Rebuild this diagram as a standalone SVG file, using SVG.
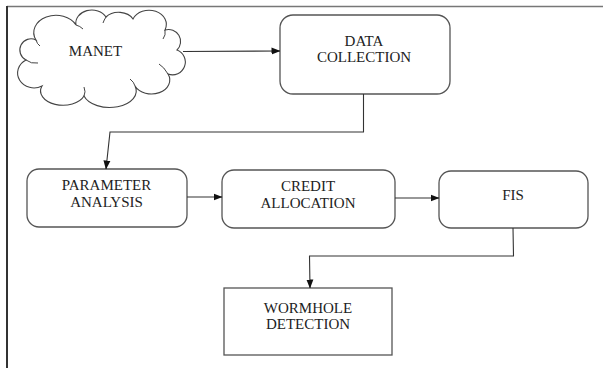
<svg xmlns="http://www.w3.org/2000/svg" width="603" height="368" viewBox="0 0 603 368">
<style>
.box{fill:#fff;stroke:#555;stroke-width:1.3}
.cloud{fill:#fff;stroke:#444;stroke-width:1.1}
.inner{fill:none;stroke:#444;stroke-width:1}
text{font-family:'Liberation Serif','DejaVu Serif',serif;font-size:15px;fill:#222;text-anchor:middle}
.con{fill:none;stroke:#333;stroke-width:1.1}
</style>
<defs>
<marker id="ah" markerWidth="9" markerHeight="8" refX="8.5" refY="4" orient="auto" markerUnits="userSpaceOnUse">
<path d="M0,0.5 L9,4 L0,7.5 Z" fill="#111"/>
</marker>
</defs>
<rect width="603" height="368" fill="#fff"/>
<g id="frame">
<line x1="7" y1="6.5" x2="603" y2="6.5" stroke="#777" stroke-width="1.5"/>
<line x1="7" y1="6" x2="7" y2="368" stroke="#333" stroke-width="2"/>
</g>
<g id="manet">
<path class="cloud" d="M26,60 A10,10 0 0,1 36,40 A22,17 0 0,1 76,25 A16,13 0 0,1 106,17 A16,12 0 0,1 133,19 A17,14 0 0,1 165,30 A12,12 0 0,1 177,50 A12,12 0 0,1 168,74 A17,13 0 0,1 135,86 A26,16 0 0,1 84,96 A22,14 0 0,1 42,86 A11,10 0 0,1 26,60 Z"/>
<path class="inner" d="M36,40 Q37,44 40,46 M26,60 Q31,64 38,63 M84,96 Q86,92 84,87 M135,86 Q134,82 130,79 M168,74 Q164,67 159,64 M165,30 Q166,35 163,39 M106,17 Q104,20 103,23 M76,25 Q80,26 83,29"/>
<text x="95.5" y="56">MANET</text>
</g>
<g id="data-collection">
<rect class="box" x="280" y="15" width="170" height="79" rx="13"/>
<text x="364" y="46">DATA</text>
<text x="364" y="62">COLLECTION</text>
</g>
<g id="parameter-analysis">
<rect class="box" x="27" y="169" width="160" height="58" rx="12"/>
<text x="106.5" y="190">PARAMETER</text>
<text x="106.5" y="207">ANALYSIS</text>
</g>
<g id="credit-allocation">
<rect class="box" x="222" y="170" width="173" height="58" rx="12"/>
<text x="308" y="191">CREDIT</text>
<text x="308" y="208">ALLOCATION</text>
</g>
<g id="fis">
<rect class="box" x="439" y="171" width="149" height="57" rx="12"/>
<text x="513" y="200">FIS</text>
</g>
<g id="wormhole-detection">
<rect class="box" x="224" y="288" width="168" height="67"/>
<text x="308" y="313">WORMHOLE</text>
<text x="308" y="329">DETECTION</text>
</g>
<g id="connectors">
<line class="con" x1="183" y1="51.5" x2="280" y2="51" marker-end="url(#ah)"/>
<polyline class="con" points="363.5,94 363.5,132 110,132 106,169" marker-end="url(#ah)"/>
<line class="con" x1="187" y1="197" x2="222" y2="197" marker-end="url(#ah)"/>
<line class="con" x1="395" y1="198" x2="439" y2="198" marker-end="url(#ah)"/>
<polyline class="con" points="513,228 513.5,256 309.5,256 310,288" marker-end="url(#ah)"/>
</g>
</svg>
